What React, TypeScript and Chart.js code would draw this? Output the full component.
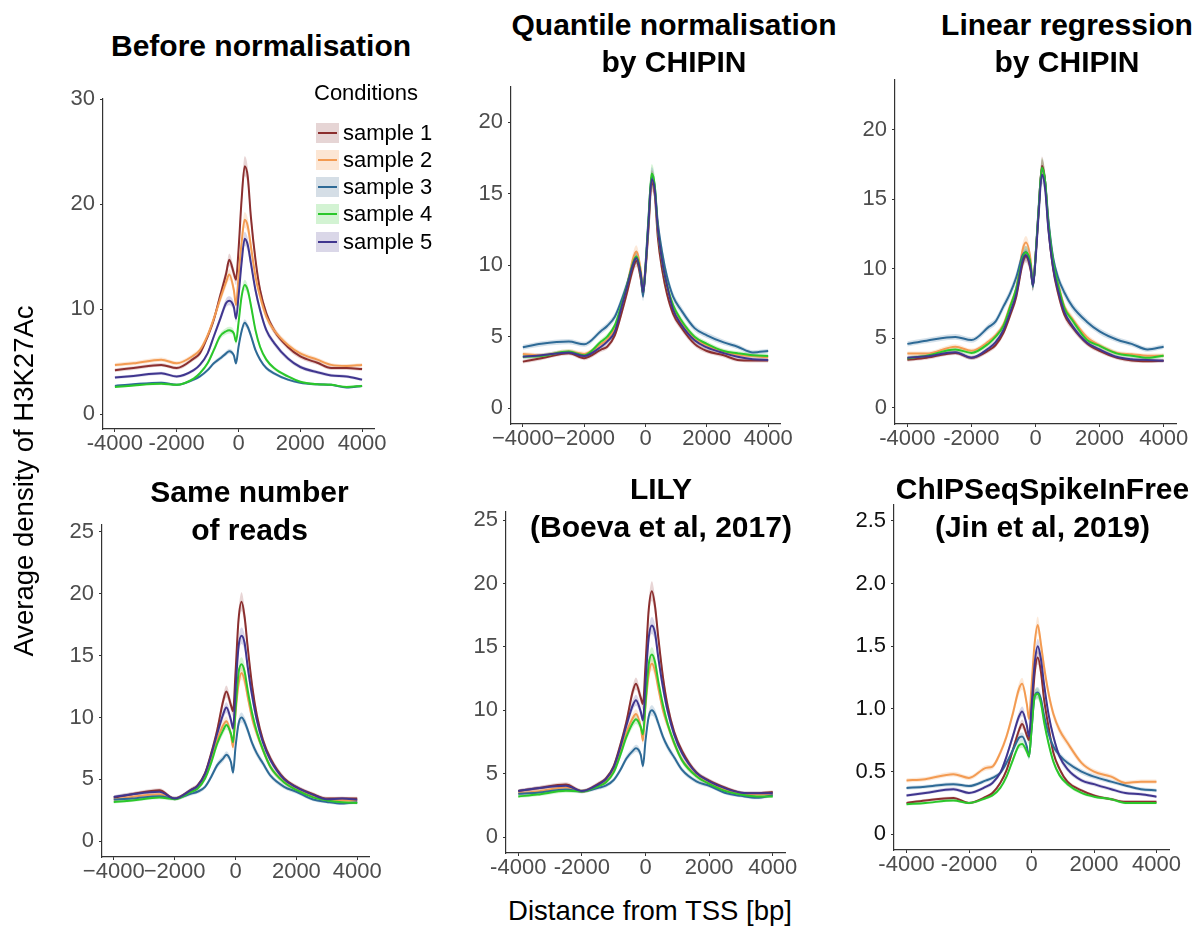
import React, { useEffect, useRef } from "react";
import { Chart, registerables } from "chart.js";

Chart.register(...registerables);

const FONT = '"Liberation Sans", Arial, Helvetica, sans-serif';

// shared x grid (distance from TSS, bp)
const X = [-4000, -3400, -2500, -2000, -1450, -1250, -1000, -800, -600, -400, -300, -150, -80, 0, 100, 200, 300, 400, 550, 700, 900, 1150, 1600, 2000, 2550, 3000, 3500, 4000];

const SAMPLES = ["sample 1", "sample 2", "sample 3", "sample 4", "sample 5"];
const LINE_COLORS = ["#8B2F2F", "#F39B52", "#2E6A96", "#2BC72B", "#40368F"];
const RIBBON_COLORS = ["rgba(139,47,47,0.2)", "rgba(243,155,82,0.22)", "rgba(46,106,150,0.2)", "rgba(43,199,43,0.2)", "rgba(64,54,143,0.2)"];
const LEGEND_FILLS = ["#E6D5D5", "#FCE6D4", "#D5DEE6", "#D3F3D3", "#DAD7E8"];
const RIBBON = 0.04;

const X_TICKS = [-4000, -2000, 0, 2000, 4000];
const X_LABELS_HYPHEN = ["-4000", "-2000", "0", "2000", "4000"];
const X_LABELS_MINUS = ["\u22124000", "\u22122000", "0", "2000", "4000"];

// Panel 1: Before normalisation
const p1s1 = [4.2, 4.4, 4.7, 4.4, 5.3, 5.8, 7.4, 9.0, 11.2, 13.4, 14.7, 13.4, 12.8, 15.6, 20.4, 23.6, 22.6, 18.8, 14.7, 11.8, 9.6, 8.0, 6.4, 5.5, 4.9, 4.4, 4.4, 4.3];
const p1s2 = [4.7, 4.85, 5.2, 4.85, 5.6, 6.1, 7.5, 9.1, 10.9, 12.6, 13.3, 11.8, 10.4, 13.1, 16.3, 18.5, 17.9, 16.0, 13.1, 11.2, 9.3, 8.0, 6.6, 5.8, 5.2, 4.7, 4.6, 4.7];
const p1s3 = [2.7, 2.85, 3.0, 2.8, 3.3, 3.6, 4.2, 4.85, 5.3, 5.8, 6.0, 5.6, 4.85, 6.4, 7.9, 8.7, 8.3, 7.5, 6.1, 5.2, 4.4, 3.9, 3.3, 3.0, 2.85, 2.8, 2.55, 2.7];
const p1s4 = [2.6, 2.75, 2.9, 2.8, 3.4, 3.9, 4.85, 6.1, 7.4, 7.9, 8.0, 7.7, 6.9, 8.7, 11.2, 12.3, 11.8, 10.4, 8.0, 6.4, 5.2, 4.4, 3.6, 3.1, 2.85, 2.8, 2.6, 2.7];
const p1s5 = [3.5, 3.65, 3.9, 3.6, 4.2, 4.7, 5.8, 7.4, 9.0, 10.6, 10.8, 10.2, 9.1, 11.2, 14.4, 16.7, 16.1, 14.4, 11.8, 9.9, 8.0, 6.8, 5.3, 4.5, 4.0, 3.7, 3.6, 3.3];

// Panel 2: Quantile normalisation by CHIPIN
const p2s1 = [3.26, 3.5, 3.85, 3.5, 4.1, 4.3, 5.1, 6.5, 8.1, 9.8, 10.3, 9.0, 8.0, 9.6, 12.6, 15.8, 15.0, 12.0, 9.6, 8.0, 6.6, 5.7, 4.5, 4.0, 3.7, 3.38, 3.33, 3.33];
const p2s2 = [3.8, 3.7, 3.96, 3.8, 4.5, 4.8, 5.6, 7.0, 8.6, 10.5, 10.95, 9.6, 8.4, 9.8, 13.0, 16.0, 15.3, 12.6, 10.2, 8.6, 7.1, 6.1, 4.9, 4.4, 3.95, 3.73, 3.65, 3.56];
const p2s3 = [4.26, 4.5, 4.66, 4.47, 5.4, 5.75, 6.4, 7.45, 8.7, 10.1, 10.5, 9.2, 7.8, 10.0, 13.4, 16.2, 15.5, 13.0, 10.8, 9.2, 7.8, 6.9, 5.6, 5.1, 4.6, 4.3, 3.9, 4.0];
const p2s4 = [3.6, 3.65, 3.96, 3.7, 4.66, 5.0, 5.8, 7.1, 8.6, 10.2, 10.6, 9.3, 8.1, 9.8, 13.2, 16.4, 15.6, 12.6, 10.2, 8.6, 7.2, 6.2, 5.0, 4.5, 4.0, 3.84, 3.7, 3.66];
const p2s5 = [3.6, 3.7, 3.9, 3.65, 4.3, 4.66, 5.36, 6.9, 8.5, 10.1, 10.5, 9.3, 8.1, 9.8, 13.0, 16.0, 15.3, 12.6, 10.2, 8.6, 6.9, 5.9, 4.75, 4.25, 3.85, 3.6, 3.42, 3.38];

// Panel 3: Linear regression by CHIPIN
const p3s1 = [3.45, 3.6, 3.95, 3.6, 4.15, 4.5, 5.4, 6.6, 8.0, 10.4, 10.9, 9.9, 8.8, 10.8, 14.3, 17.4, 16.3, 13.0, 10.0, 8.3, 6.7, 5.8, 4.65, 4.1, 3.6, 3.4, 3.35, 3.39];
const p3s2 = [3.9, 3.9, 4.4, 4.1, 4.8, 5.2, 6.0, 7.3, 8.6, 11.4, 11.9, 10.6, 8.8, 10.8, 14.3, 17.2, 16.2, 13.4, 10.6, 9.0, 7.3, 6.4, 5.1, 4.5, 3.95, 3.85, 3.75, 3.75];
const p3s3 = [4.6, 4.83, 5.1, 4.87, 5.84, 6.2, 7.3, 8.2, 9.4, 11.0, 11.2, 10.2, 8.7, 10.9, 14.5, 17.2, 16.3, 13.6, 10.8, 9.4, 8.3, 7.3, 6.2, 5.5, 4.9, 4.6, 4.2, 4.4];
const p3s4 = [3.55, 3.75, 4.2, 3.95, 4.65, 5.1, 5.9, 7.2, 8.6, 10.8, 11.2, 10.3, 8.8, 10.8, 14.3, 17.3, 16.3, 13.3, 10.5, 8.9, 7.2, 6.3, 4.9, 4.45, 3.9, 3.75, 3.6, 3.75];
const p3s5 = [3.6, 3.7, 4.0, 3.6, 4.3, 4.7, 5.6, 6.8, 8.2, 10.6, 11.0, 10.0, 8.8, 10.6, 14.0, 16.8, 15.8, 12.9, 10.1, 8.5, 6.9, 5.9, 4.7, 4.2, 3.65, 3.5, 3.44, 3.39];

// Panel 4: Same number of reads
const p4s1 = [3.53, 3.8, 4.12, 3.45, 4.18, 4.5, 5.5, 7.1, 9.0, 11.4, 12.1, 11.0, 10.5, 13.6, 17.9, 19.35, 18.1, 15.7, 12.5, 10.2, 8.2, 6.7, 5.07, 4.4, 3.8, 3.45, 3.45, 3.45];
const p4s2 = [3.37, 3.58, 3.8, 3.45, 4.04, 4.3, 5.2, 6.55, 8.2, 9.4, 9.7, 8.6, 7.6, 10.3, 12.7, 13.6, 13.0, 11.7, 9.9, 8.7, 7.4, 6.0, 4.8, 4.2, 3.64, 3.35, 3.3, 3.3];
const p4s3 = [3.37, 3.45, 3.64, 3.45, 3.85, 4.0, 4.4, 5.2, 6.15, 6.7, 7.0, 6.4, 5.55, 7.6, 9.5, 10.0, 9.65, 9.0, 7.9, 7.1, 6.3, 5.3, 4.4, 4.0, 3.37, 3.18, 3.05, 3.15];
const p4s4 = [3.18, 3.3, 3.53, 3.4, 4.0, 4.25, 5.07, 6.33, 7.9, 9.0, 9.4, 8.7, 8.0, 10.6, 13.6, 14.3, 13.7, 12.2, 10.3, 8.85, 7.4, 6.0, 4.75, 4.15, 3.55, 3.3, 3.15, 3.1];
const p4s5 = [3.58, 3.8, 4.0, 3.45, 4.15, 4.45, 5.45, 6.95, 8.7, 10.3, 10.8, 9.8, 9.1, 12.2, 15.7, 16.6, 16.0, 14.1, 11.7, 9.8, 8.0, 6.55, 5.0, 4.35, 3.75, 3.4, 3.45, 3.35];

// Panel 5: LILY
const p5s1 = [3.63, 3.85, 4.15, 3.63, 4.25, 4.6, 5.6, 7.2, 9.1, 11.5, 12.1, 11.0, 10.5, 13.6, 17.9, 19.4, 18.2, 15.8, 12.6, 10.3, 8.3, 6.8, 5.1, 4.45, 3.85, 3.5, 3.45, 3.55];
const p5s2 = [3.45, 3.6, 3.9, 3.6, 4.1, 4.35, 5.25, 6.6, 8.25, 9.4, 9.7, 8.7, 7.6, 10.3, 12.8, 13.7, 13.1, 11.8, 10.0, 8.8, 7.4, 6.1, 4.85, 4.25, 3.7, 3.4, 3.35, 3.4];
const p5s3 = [3.42, 3.5, 3.75, 3.6, 3.9, 4.05, 4.5, 5.25, 6.2, 6.8, 7.0, 6.5, 5.6, 7.6, 9.5, 10.0, 9.7, 9.0, 7.9, 7.1, 6.3, 5.3, 4.4, 4.05, 3.45, 3.25, 3.1, 3.3];
const p5s4 = [3.2, 3.35, 3.65, 3.6, 4.05, 4.3, 5.1, 6.4, 7.9, 9.0, 9.3, 8.7, 8.1, 10.6, 13.6, 14.4, 13.8, 12.3, 10.4, 8.9, 7.45, 6.05, 4.8, 4.2, 3.6, 3.35, 3.2, 3.2];
const p5s5 = [3.63, 3.85, 4.05, 3.63, 4.2, 4.55, 5.5, 7.0, 8.8, 10.4, 10.8, 9.9, 9.2, 12.2, 15.7, 16.7, 16.1, 14.2, 11.8, 9.9, 8.1, 6.6, 5.05, 4.4, 3.8, 3.5, 3.45, 3.45];

// Panel 6: ChIPSeqSpikeInFree
const p6s1 = [0.25, 0.27, 0.29, 0.25, 0.3, 0.33, 0.41, 0.51, 0.67, 0.83, 0.88, 0.79, 0.75, 0.94, 1.28, 1.41, 1.3, 1.08, 0.85, 0.65, 0.52, 0.42, 0.35, 0.31, 0.28, 0.26, 0.26, 0.26];
const p6s2 = [0.43, 0.44, 0.48, 0.45, 0.53, 0.54, 0.65, 0.78, 0.96, 1.16, 1.2, 1.04, 0.92, 1.18, 1.52, 1.67, 1.52, 1.34, 1.12, 0.96, 0.83, 0.73, 0.57, 0.5, 0.46, 0.41, 0.42, 0.42];
const p6s3 = [0.37, 0.38, 0.4, 0.385, 0.43, 0.45, 0.49, 0.57, 0.67, 0.77, 0.78, 0.7, 0.62, 0.83, 1.1, 1.13, 1.08, 0.95, 0.8, 0.7, 0.63, 0.57, 0.5, 0.46, 0.42, 0.39, 0.36, 0.35];
const p6s4 = [0.24, 0.25, 0.27, 0.25, 0.29, 0.31, 0.37, 0.46, 0.59, 0.71, 0.72, 0.66, 0.62, 0.83, 1.1, 1.12, 1.05, 0.9, 0.72, 0.58, 0.47, 0.4, 0.33, 0.3, 0.28, 0.25, 0.25, 0.25];
const p6s5 = [0.31, 0.33, 0.36, 0.33, 0.38, 0.41, 0.49, 0.62, 0.78, 0.94, 0.98, 0.87, 0.78, 1.02, 1.36, 1.5, 1.4, 1.2, 0.95, 0.78, 0.62, 0.52, 0.43, 0.4, 0.36, 0.33, 0.32, 0.3];

const Y_TICKS_30 = [0, 10, 20, 30];
const Y_TICKS_20 = [0, 5, 10, 15, 20];
const Y_TICKS_25 = [0, 5, 10, 15, 20, 25];
const Y_TICKS_25S = [0, 0.5, 1.0, 1.5, 2.0, 2.5];
const Y_LABELS_25S = ["0", "0.5", "1.0", "1.5", "2.0", "2.5"];

type TitleLine = { text: string; cx: number; cy: number };
type PanelCfg = {
  series: number[][];
  left: number; top: number; right: number; bottom: number;
  ymin: number; ymax: number; xr: number;
  yTicks: number[]; yLabels: string[]; xLabels: string[];
  yColor: string;
  titles: TitleLine[];
};

const PANELS: PanelCfg[] = [
  {
    series: [p1s1, p1s2, p1s3, p1s4, p1s5],
    left: 102.7, top: 99.3, right: 374, bottom: 429, ymin: -1.4, ymax: 30, xr: 4385,
    yTicks: Y_TICKS_30, yLabels: Y_TICKS_30.map(String), xLabels: X_LABELS_HYPHEN, yColor: "#4D4D4D",
    titles: [{ text: "Before normalisation", cx: 261, cy: 46 }],
  },
  {
    series: [p2s1, p2s2, p2s3, p2s4, p2s5],
    left: 511, top: 87.3, right: 780, bottom: 424, ymin: -1.1, ymax: 22.45, xr: 4385,
    yTicks: Y_TICKS_20, yLabels: Y_TICKS_20.map(String), xLabels: X_LABELS_MINUS, yColor: "#4D4D4D",
    titles: [{ text: "Quantile normalisation", cx: 674, cy: 25 }, { text: "by CHIPIN", cx: 674, cy: 62 }],
  },
  {
    series: [p3s1, p3s2, p3s3, p3s4, p3s5],
    left: 895.3, top: 80, right: 1176.7, bottom: 424, ymin: -1.17, ymax: 23.6, xr: 4385,
    yTicks: Y_TICKS_20, yLabels: Y_TICKS_20.map(String), xLabels: X_LABELS_HYPHEN, yColor: "#4D4D4D",
    titles: [{ text: "Linear regression", cx: 1067, cy: 25 }, { text: "by CHIPIN", cx: 1067, cy: 62 }],
  },
  {
    series: [p4s1, p4s2, p4s3, p4s4, p4s5],
    left: 101.7, top: 525, right: 368.3, bottom: 856.7, ymin: -1.27, ymax: 25.55, xr: 4385,
    yTicks: Y_TICKS_25, yLabels: Y_TICKS_25.map(String), xLabels: X_LABELS_MINUS, yColor: "#4D4D4D",
    titles: [{ text: "Same number", cx: 249.5, cy: 491.7 }, { text: "of reads", cx: 249.5, cy: 530 }],
  },
  {
    series: [p5s1, p5s2, p5s3, p5s4, p5s5],
    left: 506, top: 511.7, right: 785, bottom: 852.7, ymin: -1.26, ymax: 25.65, xr: 4385,
    yTicks: Y_TICKS_25, yLabels: Y_TICKS_25.map(String), xLabels: X_LABELS_HYPHEN, yColor: "#4D4D4D",
    titles: [{ text: "LILY", cx: 661, cy: 488.7 }, { text: "(Boeva et al, 2017)", cx: 661, cy: 526.7 }],
  },
  {
    series: [p6s1, p6s2, p6s3, p6s4, p6s5],
    left: 894.3, top: 505, right: 1169, bottom: 850, ymin: -0.125, ymax: 2.626, xr: 4400,
    yTicks: Y_TICKS_25S, yLabels: Y_LABELS_25S, xLabels: X_LABELS_HYPHEN, yColor: "#111111",
    titles: [{ text: "ChIPSeqSpikeInFree", cx: 1042.5, cy: 489 }, { text: "(Jin et al, 2019)", cx: 1042.5, cy: 526.7 }],
  },
];

const W_Y = 60;
const H_X = 40;
const PAD_T = 16;
const PAD_R = 24;

function Panel({ cfg }: { cfg: PanelCfg }) {
  const ref = useRef<HTMLCanvasElement>(null);
  const cl = cfg.left - W_Y;
  const ct = cfg.top - PAD_T;
  const cw = Math.round(cfg.right + PAD_R - cl);
  const ch = Math.round(cfg.bottom + H_X - ct);

  useEffect(() => {
    if (!ref.current) return;
    const datasets: any[] = [];
    cfg.series.forEach((vals, i) => {
      datasets.push({
        data: X.map((x, j) => ({ x, y: vals[j] * (1 + RIBBON) })),
        borderWidth: 0, pointRadius: 0, fill: "+1", backgroundColor: RIBBON_COLORS[i],
        cubicInterpolationMode: "monotone", order: 50,
      });
      datasets.push({
        data: X.map((x, j) => ({ x, y: vals[j] * (1 - RIBBON) })),
        borderWidth: 0, pointRadius: 0, fill: false, backgroundColor: "transparent",
        cubicInterpolationMode: "monotone", order: 50,
      });
    });
    cfg.series.forEach((vals, i) => {
      datasets.push({
        data: X.map((x, j) => ({ x, y: vals[j] })),
        borderColor: LINE_COLORS[i], borderWidth: 2, pointRadius: 0, fill: false,
        cubicInterpolationMode: "monotone", order: 10 - i,
      });
    });
    const tickFont = { family: FONT, size: 22, lineHeight: 1 };
    const chart = new Chart(ref.current, {
      type: "line",
      data: { datasets },
      options: {
        animation: false,
        responsive: false,
        maintainAspectRatio: false,
        devicePixelRatio: 1,
        layout: { padding: { top: PAD_T, right: PAD_R, left: 0, bottom: 0 } },
        plugins: { legend: { display: false }, tooltip: { enabled: false }, title: { display: false } },
        scales: {
          x: {
            type: "linear",
            min: -cfg.xr,
            max: cfg.xr,
            afterBuildTicks: (s: any) => { s.ticks = X_TICKS.map((v) => ({ value: v })); },
            afterFit: (s: any) => { s.height = H_X; },
            ticks: {
              callback: (_v: any, idx: number) => cfg.xLabels[idx],
              color: "#4D4D4D", font: tickFont, padding: 1, maxRotation: 0, autoSkip: false,
            },
            grid: { display: true, drawOnChartArea: false, drawTicks: true, tickLength: 3, color: "#333333" },
            border: { display: true, color: "#333333", width: 1.2 },
          },
          y: {
            type: "linear",
            min: cfg.ymin,
            max: cfg.ymax,
            afterBuildTicks: (s: any) => { s.ticks = cfg.yTicks.map((v) => ({ value: v })); },
            afterFit: (s: any) => { s.width = W_Y; },
            ticks: {
              callback: (_v: any, idx: number) => cfg.yLabels[idx],
              color: cfg.yColor, font: tickFont, padding: 5, autoSkip: false,
            },
            grid: { display: true, drawOnChartArea: false, drawTicks: true, tickLength: 3, color: "#333333" },
            border: { display: true, color: "#333333", width: 1.2 },
          },
        },
      } as any,
    });
    return () => chart.destroy();
  }, [cfg]);

  return (
    <canvas
      ref={ref}
      width={cw}
      height={ch}
      style={{ position: "absolute", left: cl, top: ct, width: cw, height: ch }}
    />
  );
}

const LEGEND_Y = [133, 160, 187, 214, 242];

export default function App() {
  const titleStyle = (cx: number, cy: number): React.CSSProperties => ({
    position: "absolute", left: cx - 250, top: cy - 15, width: 500, height: 30,
    lineHeight: "30px", fontSize: 30, fontWeight: "bold", textAlign: "center",
    color: "#000", whiteSpace: "nowrap",
  });
  return (
    <div style={{ position: "absolute", left: 0, top: 0, width: 1202, height: 927, background: "#fff", overflow: "hidden", fontFamily: FONT }}>
      {PANELS.map((p, i) => <Panel key={i} cfg={p} />)}
      {PANELS.map((p, i) => p.titles.map((t, k) => (
        <div key={`t${i}-${k}`} style={titleStyle(t.cx, t.cy)}>{t.text}</div>
      )))}
      {/* legend */}
      <div style={{ position: "absolute", left: 314, top: 93 - 11, fontSize: 22, lineHeight: "22px", color: "#000", whiteSpace: "nowrap" }}>Conditions</div>
      {SAMPLES.map((s, i) => (
        <React.Fragment key={s}>
          <div style={{ position: "absolute", left: 316, top: LEGEND_Y[i] - 10, width: 23, height: 20, background: LEGEND_FILLS[i] }}>
            <div style={{ position: "absolute", left: 2, right: 2, top: 9, height: 2, background: LINE_COLORS[i] }} />
          </div>
          <div style={{ position: "absolute", left: 343, top: LEGEND_Y[i] - 11, fontSize: 22, lineHeight: "22px", color: "#000", whiteSpace: "nowrap" }}>{s}</div>
        </React.Fragment>
      ))}
      {/* axis titles */}
      <div style={{ position: "absolute", left: 23.5 - 250, top: 480.5 - 14, width: 500, height: 28, lineHeight: "28px", fontSize: 27.5, textAlign: "center", transform: "rotate(-90deg)", color: "#000", whiteSpace: "nowrap" }}>
        Average density of H3K27Ac
      </div>
      <div style={{ position: "absolute", left: 650 - 250, top: 910.8 - 14, width: 500, height: 28, lineHeight: "28px", fontSize: 27.5, textAlign: "center", color: "#000", whiteSpace: "nowrap" }}>
        Distance from TSS [bp]
      </div>
    </div>
  );
}
